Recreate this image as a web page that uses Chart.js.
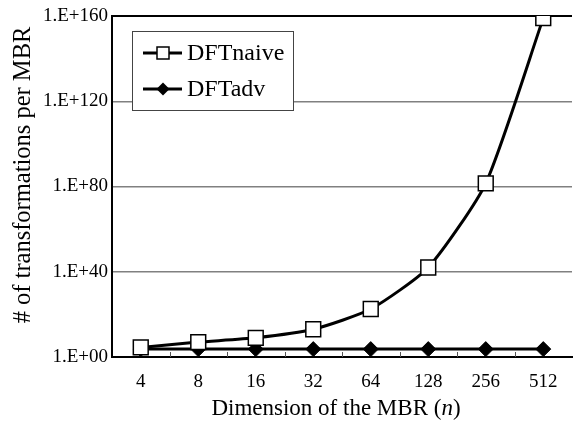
<!DOCTYPE html>
<html>
<head>
<meta charset="utf-8">
<script src="https://cdn.jsdelivr.net/npm/chart.js@4.4.1/dist/chart.umd.min.js"></script>
<style>
  html, body { margin: 0; padding: 0; overflow: hidden; background: #fff; }
  canvas { display: block; }
</style>
</head>
<body>
<canvas id="graph" width="584" height="425"></canvas>
<script>
// values are the exponents (log10)
var dims = ['4', '8', '16', '32', '64', '128', '256', '512'];
var naiveExp = [4.5, 7, 9, 13, 22.5, 42, 81.5, 159];
var advExp = [3.7, 3.7, 3.7, 3.7, 3.7, 3.7, 3.7, 3.7];
var yTicks = [0, 40, 80, 120, 160];
var yTickLabels = ['1.E+00', '1.E+40', '1.E+80', '1.E+120', '1.E+160'];
var seriesNames = ['DFTnaive', 'DFTadv'];

var serif = '"Liberation Serif", "Times New Roman", serif';

// legend, axis titles and the little category ticks
var decor = {
    id: 'decor',
    beforeDatasetsDraw: function (chart) {
        var ctx = chart.ctx;
        var x = chart.scales.x;
        var bottom = chart.chartArea.bottom;
        ctx.save();
        ctx.strokeStyle = '#555';
        ctx.lineWidth = 1;
        for (var i = 0; i < dims.length - 1; i++) {
            var px = Math.round((x.getPixelForTick(i) + x.getPixelForTick(i + 1)) / 2) + 0.5;
            ctx.beginPath();
            ctx.moveTo(px, bottom);
            ctx.lineTo(px, bottom - 5);
            ctx.stroke();
        }
        ctx.restore();
    },
    afterDatasetsDraw: function (chart) {
        var ctx = chart.ctx;
        ctx.save();
        // legend box
        ctx.fillStyle = '#fff';
        ctx.fillRect(132, 31, 161, 79);
        ctx.strokeStyle = '#444';
        ctx.lineWidth = 1;
        ctx.strokeRect(132.5, 31.5, 161, 79);

        var rows = [53, 89];
        for (var r = 0; r < rows.length; r++) {
            var y = rows[r];
            ctx.strokeStyle = '#000';
            ctx.lineWidth = 3;
            ctx.beginPath();
            ctx.moveTo(143, y);
            ctx.lineTo(182, y);
            ctx.stroke();
            if (r === 0) {
                ctx.fillStyle = '#fff';
                ctx.lineWidth = 1.5;
                ctx.fillRect(157, y - 6, 12, 12);
                ctx.strokeRect(157, y - 6, 12, 12);
            } else {
                ctx.fillStyle = '#000';
                ctx.beginPath();
                ctx.moveTo(163, y - 6.5);
                ctx.lineTo(169.5, y);
                ctx.lineTo(163, y + 6.5);
                ctx.lineTo(156.5, y);
                ctx.closePath();
                ctx.fill();
            }
            ctx.fillStyle = '#000';
            ctx.font = '24px ' + serif;
            ctx.textBaseline = 'middle';
            ctx.textAlign = 'left';
            ctx.fillText(seriesNames[r], 187, y + 1);
        }

        // x axis title with italic n
        ctx.font = '23px ' + serif;
        var a = 'Dimension of the MBR (';
        var wa = ctx.measureText(a).width;
        ctx.font = 'italic 23px ' + serif;
        var wn = ctx.measureText('n').width;
        ctx.font = '23px ' + serif;
        var wc = ctx.measureText(')').width;
        var sx = 336 - (wa + wn + wc) / 2;
        ctx.textBaseline = 'alphabetic';
        ctx.fillText(a, sx, 415);
        ctx.font = 'italic 23px ' + serif;
        ctx.fillText('n', sx + wa, 415);
        ctx.font = '23px ' + serif;
        ctx.fillText(')', sx + wa + wn, 415);

        // y axis title
        ctx.font = '24.5px ' + serif;
        ctx.translate(24, 175);
        ctx.rotate(-Math.PI / 2);
        ctx.textAlign = 'center';
        ctx.textBaseline = 'middle';
        ctx.fillText('# of transformations per MBR', 0, 0);
        ctx.restore();
    }
};

const chartCtx = document.getElementById('graph').getContext('2d');

var chart = new Chart(chartCtx, {
    type: 'line',
    data: {
        labels: dims,
        datasets: [
            {
                label: seriesNames[0],
                data: naiveExp,
                borderColor: '#000',
                borderWidth: 3,
                tension: 0.2,
                pointStyle: 'rect',
                pointRadius: 10.5,
                pointBackgroundColor: '#fff',
                pointBorderColor: '#000',
                pointBorderWidth: 1.5
            },
            {
                label: seriesNames[1],
                data: advExp,
                borderColor: '#000',
                borderWidth: 3,
                pointStyle: 'rectRot',
                pointRadius: 7.5,
                pointBackgroundColor: '#000',
                pointBorderColor: '#000',
                pointBorderWidth: 1
            }
        ]
    },
    options: {
        responsive: false,
        animation: false,
        layout: { padding: { top: 16, right: 0, left: 0, bottom: 0 } },
        plugins: {
            legend: { display: false },
            tooltip: { enabled: false }
        },
        scales: {
            x: {
                offset: true,
                grid: { display: false },
                border: { color: '#000', width: 2 },
                ticks: { color: '#000', padding: 6, font: { family: serif, size: 19 } },
                afterFit: function (scale) { scale.height = 68; }
            },
            y: {
                min: 0,
                max: 160,
                grid: {
                    drawTicks: false,
                    color: function (c) { return c.tick && c.tick.value === 160 ? '#000' : '#808080'; },
                    lineWidth: function (c) { return c.tick && c.tick.value === 160 ? 2 : 1.5; }
                },
                border: { color: '#000', width: 2 },
                ticks: {
                    stepSize: 40,
                    color: '#000',
                    padding: 4,
                    font: { family: serif, size: 19 },
                    callback: function (v) { return yTickLabels[yTicks.indexOf(v)]; }
                },
                afterFit: function (scale) { scale.width = 112; }
            }
        }
    },
    plugins: [decor]
});
</script>
</body>
</html>
